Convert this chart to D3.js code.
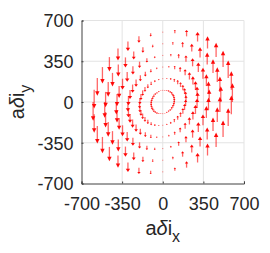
<!DOCTYPE html>
<html lang="en">
<head>
<meta charset="utf-8">
<title>Quiver</title>
<script src="https://d3js.org/d3.v7.min.js"></script>
<style>
  body { margin: 0; background: #fff; }
  text { font-family: "Liberation Sans", Arial, sans-serif; fill: #262626; }
</style>
</head>
<body>
<svg id="chart" width="270" height="253"></svg>
<script>
// ring radii of the sample points (same units as axes)
var radii = [100, 200, 300, 400, 500, 600];
// angles of the points on every ring, degrees
var angles = [0, 10, 20, 30, 40, 50, 60, 70, 80, 90, 100, 110, 120, 130, 140, 150, 160, 170,
              180, 190, 200, 210, 220, 230, 240, 250, 260, 270, 280, 290, 300, 310, 320, 330, 340, 350];
// vertical component of each arrow relative to its x position
var gain = 0.27;
var ticks = [-700, -350, 0, 350, 700];

var svg = d3.select("#chart");

var x = d3.scaleLinear().domain([-700, 700]).range([81.5, 244]);
var y = d3.scaleLinear().domain([-700, 700]).range([183.5, 20.5]);

// grid
var grid = svg.append("g");
grid.selectAll("line.gx").data(ticks.slice(1)).enter().append("line")
  .attr("x1", function(d){ return x(d); }).attr("x2", function(d){ return x(d); })
  .attr("y1", y(-700)).attr("y2", y(700))
  .attr("stroke", "#e3e3e3");
grid.selectAll("line.gy").data(ticks.slice(1)).enter().append("line")
  .attr("y1", function(d){ return y(d); }).attr("y2", function(d){ return y(d); })
  .attr("x1", x(-700)).attr("x2", x(700))
  .attr("stroke", "#e3e3e3");

// arrows
var pts = [];
radii.forEach(function(r){
  angles.forEach(function(a){
    var t = a * Math.PI / 180;
    var px = r * Math.cos(t), py = r * Math.sin(t);
    pts.push({x: px, y: py, u: 0, v: gain * px});
  });
});

var arrows = svg.append("g");
pts.forEach(function(p){
  var x0 = x(p.x), y0 = y(p.y);
  var x1 = x(p.x + p.u), y1 = y(p.y + p.v);
  var len = Math.abs(y1 - y0);
  if (len < 0.3) {
    arrows.append("rect").attr("x", x0 - 0.5).attr("y", y0 - 0.5)
      .attr("width", 1).attr("height", 1).attr("fill", "#ff0000").attr("opacity", 0.5);
    return;
  }
  var dir = y1 < y0 ? -1 : 1;
  var hl = Math.min(4.5, len * 0.34), hw = Math.min(2.2, len * 0.17 + 0.6);
  arrows.append("line")
    .attr("x1", x0).attr("y1", y0).attr("x2", x1).attr("y2", y1 - dir * hl * 0.5)
    .attr("stroke", "#ff0000").attr("stroke-opacity", 0.6).attr("stroke-width", 1.3);
  arrows.append("path")
    .attr("d", "M" + x1 + "," + y1 + "L" + (x1 - hw) + "," + (y1 - dir * hl) +
               "L" + (x1 + hw) + "," + (y1 - dir * hl) + "Z")
    .attr("fill", "#ff0000").attr("fill-opacity", 0.95);
});

// axes
var xAxis = d3.axisBottom(x).tickValues(ticks).tickSize(-2).tickPadding(14).tickFormat(String);
var yAxis = d3.axisLeft(y).tickValues(ticks).tickSize(-2).tickPadding(8).tickFormat(String);

var gx = svg.append("g").attr("transform", "translate(0," + y(-700) + ")").call(xAxis);
var gy = svg.append("g").attr("transform", "translate(" + x(-700) + ",0)").call(yAxis);
[gx, gy].forEach(function(g){
  g.select(".domain").attr("stroke", "#404040");
  g.selectAll(".tick line").attr("stroke", "#404040");
  g.selectAll(".tick text").style("font-size", "18px").style("font-family", "'Liberation Sans', Arial, sans-serif").attr("fill", "#262626");
});
gy.selectAll(".tick text").attr("dy", "0.35em");

// labels
var xl = svg.append("text").attr("x", x(0)).attr("y", 235)
  .attr("text-anchor", "middle").style("font-size", "20px");
xl.append("tspan").text("a");
xl.append("tspan").style("font-style", "italic").text("δ");
xl.append("tspan").text("i");
xl.append("tspan").attr("dy", 7).style("font-size", "16px").text("x");

var yl = svg.append("text").attr("transform", "translate(24," + y(0) + ") rotate(-90)")
  .attr("text-anchor", "middle").style("font-size", "20px");
yl.append("tspan").text("a");
yl.append("tspan").style("font-style", "italic").text("δ");
yl.append("tspan").text("i");
yl.append("tspan").attr("dy", 7).style("font-size", "16px").text("y");
</script>
</body>
</html>
